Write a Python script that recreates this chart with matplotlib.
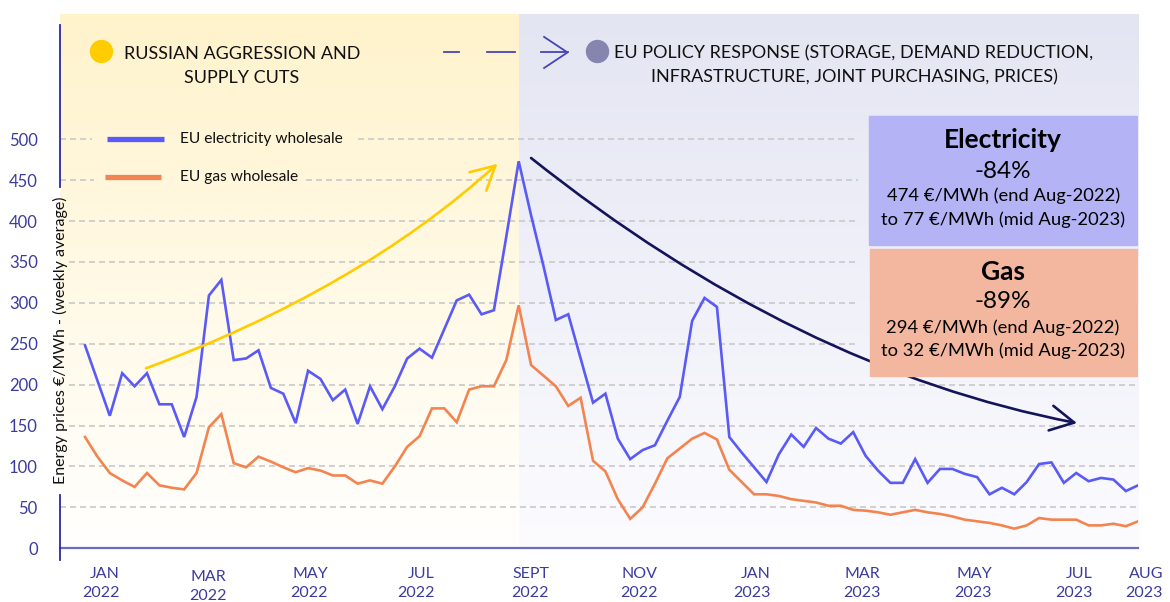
import numpy as np
import matplotlib
matplotlib.use("Agg")
import matplotlib.pyplot as plt
from matplotlib.path import Path
from matplotlib.patches import FancyArrowPatch, Rectangle

plt.rcParams['font.family'] = ['Lato', 'DejaVu Sans']

# weekly wholesale prices (EUR/MWh), first week of Jan 2022 -> mid Aug 2023
electricity = [248, 205, 162, 214, 198, 214, 176, 176, 136, 185,
               309, 328, 230, 232, 242, 196, 189, 153, 217, 207,
               181, 194, 152, 198, 170, 198, 232, 244, 233, 268,
               303, 310, 286, 291, 381, 473, 407, 345, 279, 286,
               232, 178, 189, 134, 109, 120, 126, 156, 185, 278,
               306, 295, 136, 117, 99, 81, 115, 139, 124, 147,
               134, 128, 142, 113, 95, 80, 80, 109, 80, 97,
               97, 91, 87, 66, 74, 66, 81, 103, 105, 80,
               92, 82, 86, 84, 70, 77]
gas = [136, 112, 92, 83, 75, 92, 77, 74, 72, 92,
       148, 164, 104, 99, 112, 106, 99, 93, 98, 95,
       89, 89, 79, 83, 79, 100, 124, 137, 171, 171,
       154, 194, 198, 198, 230, 297, 224, 211, 198, 174,
       184, 107, 94, 60, 36, 50, 79, 110, 122, 134,
       141, 133, 96, 81, 66, 66, 64, 60, 58, 56,
       52, 52, 47, 46, 44, 41, 44, 47, 44, 42,
       39, 35, 33, 31, 28, 24, 28, 37, 35, 35,
       35, 28, 28, 30, 27, 33]
weeks = np.arange(len(electricity))

month_labels = ['JAN\n2022', 'MAR\n2022', 'MAY\n2022', 'JUL\n2022', 'SEPT\n2022',
                'NOV\n2022', 'JAN\n2023', 'MAR\n2023', 'MAY\n2023', 'JUL\n2023',
                'AUG\n2023']
month_pos = [2.8, 11.4, 19.6, 28.25, 37.45, 46.2, 55.3, 64.2, 73.2, 81.3, 87.0]
y_ticks = [0, 50, 100, 150, 200, 250, 300, 350, 400, 450, 500]

elec_col = '#5a5af7'
gas_col = '#f4844f'
axis_col = '#3b3b9e'

fig = plt.figure(figsize=(11.7, 6.02), dpi=100)
ax = fig.add_axes([60 / 1170, 53.7 / 602, 1078.2 / 1170, 534.3 / 602])
x0, x1 = -2.02, 85
ytop = 653

# background bands, fading to white at the bottom
split = int(np.argmax(electricity))
g = np.linspace(0, 1, 256)[:, None, None]
def band(top, bottom):
    top = np.array(top) / 255.0
    bottom = np.array(bottom) / 255.0
    return top * (1 - g) + bottom * g
ax.imshow(band((255, 243, 204), (255, 255, 254)), extent=[x0, split, 0, ytop],
          aspect='auto', origin='upper', zorder=0)
ax.imshow(band((227, 229, 242), (252, 252, 255)), extent=[split, x1, 0, ytop],
          aspect='auto', origin='upper', zorder=0)
ax.set_xlim(x0, x1)
ax.set_ylim(0, ytop)

# dashed grid, with gaps behind the legend, the y label and the boxes
for lvl in y_ticks[1:]:
    start = x0 if lvl in (50, 450, 500) else -1.3
    end = 62.4 if lvl >= 250 else x1
    spans = [(start, end)]
    if lvl == 500:
        spans = [(start, 0.56), (22.0, end)]
    if lvl == 450:
        spans = [(start, 0.73), (17.8, end)]
    for a, b in spans:
        ax.plot([a, b], [lvl, lvl], color='#c9c9c9', lw=1.2, dashes=[3.6, 2.4], zorder=1)

ax.plot(weeks, electricity, color=elec_col, lw=1.9, zorder=3, solid_joinstyle='miter')
ax.plot(weeks, gas, color=gas_col, lw=1.9, zorder=3, solid_joinstyle='miter')

# axes furniture
for s in ['top', 'right', 'left']:
    ax.spines[s].set_visible(False)
ax.spines['bottom'].set_color('#6b6bc0')
ax.spines['bottom'].set_linewidth(1.6)
ax.plot([x0, x0], [640, 442], color='#2a2aa0', lw=1.3, clip_on=False, zorder=4)
ax.plot([x0, x0], [65, -14], color='#2a2aa0', lw=1.3, clip_on=False, zorder=4)
ax.set_xticks([])
ax.set_yticks(y_ticks)
ax.tick_params(axis='y', length=0, pad=16, labelsize=12, labelcolor=axis_col)
ax.text(x0, 254, 'Energy prices €/MWh - (weekly average)', rotation=90,
        ha='center', va='center', fontsize=11.5, color='#111111', zorder=5)
for pos, lab in zip(month_pos, month_labels):
    dy = -0.041 if lab == 'MAR\n2022' else -0.035
    ax.text(pos, dy, lab, transform=ax.get_xaxis_transform(), ha='right', va='top',
            fontsize=11.5, color=axis_col, linespacing=1.45, clip_on=False)

# legend
ax.plot([1.78, 6.34], [500, 500], color=elec_col, lw=3.8, solid_capstyle='butt', zorder=4)
ax.plot([1.61, 6.13], [454, 454], color=gas_col, lw=3.8, solid_capstyle='butt', zorder=4)
ax.text(7.67, 500, 'EU electricity wholesale', va='center', fontsize=11.2, color='#111111')
ax.text(7.67, 454, 'EU gas wholesale', va='center', fontsize=11.2, color='#111111')

# header
ax.scatter([1.26], [608], s=250, color='#ffcc00', clip_on=False, zorder=5)
ax.scatter([41.36], [608], s=250, color='#8585b0', clip_on=False, zorder=5)
ax.text(12.67, 590, 'RUSSIAN AGGRESSION AND\nSUPPLY CUTS', ha='center', va='center',
        fontsize=13, linespacing=1.62, color='#111111')
ax.text(62.07, 590, 'EU POLICY RESPONSE (STORAGE, DEMAND REDUCTION,\n'
        'INFRASTRUCTURE, JOINT PURCHASING, PRICES)', ha='center', va='center',
        fontsize=13, linespacing=1.62, color='#111111')
hdr = '#4545b5'
ax.plot([28.97, 30.18], [606, 606], color=hdr, lw=1.3)
ax.plot([32.45, 34.7], [606, 606], color=hdr, lw=1.3)
ax.plot([36.84, 38.94], [606, 606], color=hdr, lw=1.3)
ax.plot([37.05, 38.94, 37.05], [625, 606, 587], color=hdr, lw=1.3)

# trend arrows
def curved_arrow(p0, p1, p2, color):
    path = Path([p0, p1, p2], [Path.MOVETO, Path.CURVE3, Path.CURVE3])
    ax.add_patch(FancyArrowPatch(path=path, arrowstyle='->,head_length=17,head_width=9',
                                 mutation_scale=1, lw=1.9, color=color,
                                 transform=ax.transData, zorder=4))
curved_arrow((4.92, 220), (22.05, 316), (33.29, 470), '#ffcc00')
curved_arrow((36.0, 477), (57.4, 219), (80.06, 153), '#14145a')

# summary boxes
ax.add_patch(Rectangle((63.3, 370.8), 21.6, 157.6, color='#b3b3f5', zorder=5))
ax.add_patch(Rectangle((63.36, 211), 21.6, 154.5, color='#f2b79e', zorder=5))
cx = 74.1
ax.text(cx, 499, 'Electricity', ha='center', va='center', fontsize=19,
        fontweight='bold', zorder=6)
ax.text(cx, 460, '-84%', ha='center', va='center', fontsize=17.5, zorder=6)
ax.text(cx, 431, '474 €/MWh (end Aug-2022)', ha='center', va='center', fontsize=13.2, zorder=6)
ax.text(cx, 401, 'to 77 €/MWh (mid Aug-2023)', ha='center', va='center', fontsize=13.2, zorder=6)
ax.text(cx, 338, 'Gas', ha='center', va='center', fontsize=19, fontweight='bold', zorder=6)
ax.text(cx, 301.5, '-89%', ha='center', va='center', fontsize=17.5, zorder=6)
ax.text(cx, 270, '294 €/MWh (end Aug-2022)', ha='center', va='center', fontsize=13.2, zorder=6)
ax.text(cx, 241.5, 'to 32 €/MWh (mid Aug-2023)', ha='center', va='center', fontsize=13.2, zorder=6)

fig.savefig('out.png', dpi=100)
